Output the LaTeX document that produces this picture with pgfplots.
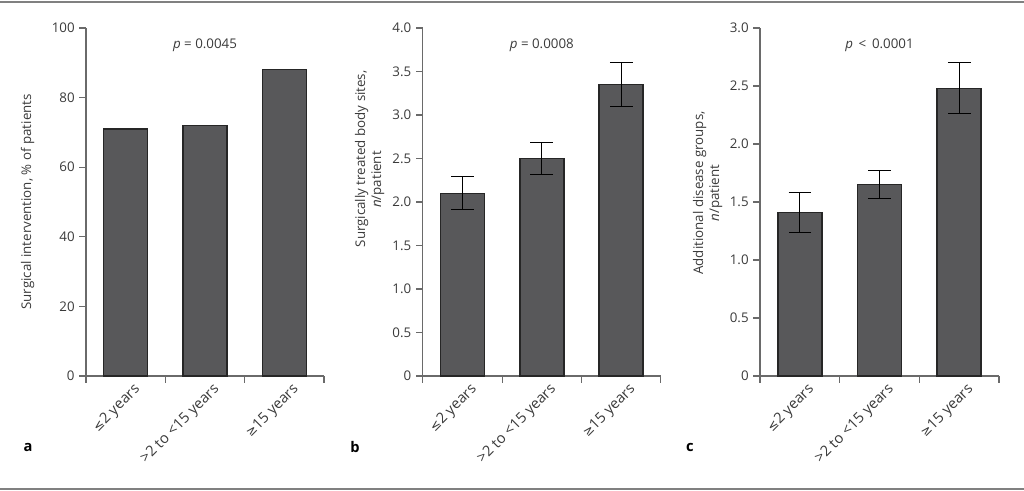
\documentclass[border=0pt]{standalone}
\usepackage{pgfplots}
\pgfplotsset{compat=1.18}
\usepackage{fontspec}
\setmainfont{Open Sans}
\newfontfamily\sym[Scale=0.85]{DejaVu Sans}
\definecolor{txt}{HTML}{3A3A3A}
\definecolor{axg}{HTML}{6A6A6A}
\definecolor{barfill}{HTML}{58585A}
\definecolor{bardraw}{HTML}{262626}
\definecolor{rule}{HTML}{808080}
\pgfplotsset{
  panel/.style={
    scale only axis,
    anchor=south west,
    height=261pt,
    xmin=-0.5, xmax=2.5, ymin=0,
    /pgf/number format/assume math mode=true,
    axis x line*=bottom, axis y line*=left,
    axis line style={draw=axg, line width=0.8pt},
    tick align=outside,
    major tick length=5pt,
    tick style={draw=axg, line width=0.8pt},
    xtick={-0.5,0.5,1.5,2.5}, xticklabels={},
    extra x ticks={0,1,2},
    extra x tick labels={{\sym ≤}2 years,{>2 to <15 years},{\sym ≥}15 years},
    extra x tick style={major tick length=0pt, tick style={draw=none}},
    xticklabel style={rotate=45, anchor=north east, inner sep=2pt, yshift=-5pt, xshift=2.5pt, font=\fontsize{11}{13}\selectfont, text=txt},
    yticklabel style={font=\fontsize{10}{12}\selectfont, text=txt},
    ylabel style={font=\fontsize{10}{12}\selectfont, text=txt, anchor=south, align=center},
    clip=false,
  },
  bars/.style={
    ybar, bar width=33pt, bar shift=0pt,
    fill=barfill, draw=bardraw, line width=1.1pt,
  },
  errs/.style={
    error bars/.cd, y dir=both, y explicit,
    error mark=|,
    error bar style={line width=0.8pt, black},
    error mark options={mark size=8.5pt, line width=0.8pt, black},
  },
}
\begin{document}
\begin{tikzpicture}
\path[use as bounding box] (0,0) rectangle (768pt,368.25pt);
\draw[rule, line width=1.1pt] (0,366.75pt) -- (768pt,366.75pt);
\draw[rule, line width=1.1pt] (0,1.5pt) -- (768pt,1.5pt);

% Panel a
\begin{axis}[panel, at={(64.5pt,86.25pt)}, width=178.5pt,
  ymax=100, ytick={0,20,40,60,80,100},
  ylabel={Surgical intervention, \% of patients},
  ylabel style={at={(axis description cs:-0.197,0.5)}},
]
\addplot[bars] coordinates {(0,71) (1,72) (2,88)};
\node[font=\fontsize{10}{12}\selectfont, text=txt] at (rel axis cs:0.5,0.951) {\textit{p} = 0.0045};
\end{axis}

% Panel b
\begin{axis}[panel, at={(317pt,86.25pt)}, width=178.7pt,
  ymax=4, ytick={0,0.5,1,1.5,2,2.5,3,3.5,4},
  yticklabels={0,0.5,1.0,1.5,2.0,2.5,3.0,3.5,4.0},
  ylabel={Surgically treated body sites,\\\textit{n}/patient\hspace*{31pt}},
  ylabel style={at={(axis description cs:-0.141,0.624)}},
]
\addplot[bars, errs] coordinates {(0,2.1) +- (0,0.19) (1,2.5) +- (0,0.18) (2,3.35) +- (0,0.25)};
\node[font=\fontsize{10}{12}\selectfont, text=txt] at (rel axis cs:0.5,0.951) {\textit{p} = 0.0008};
\end{axis}

% Panel c
\begin{axis}[panel, at={(570pt,86.25pt)}, width=179.25pt,
  ymax=3, ytick={0,0.5,1,1.5,2,2.5,3},
  yticklabels={0,0.5,1.0,1.5,2.0,2.5,3.0},
  ylabel={Additional disease groups,\\\textit{n}/patient},
  ylabel style={at={(axis description cs:-0.138,0.526)}},
]
\addplot[bars, errs] coordinates {(0,1.41) +- (0,0.17) (1,1.65) +- (0,0.12) (2,2.48) +- (0,0.22)};
\node[font=\fontsize{10}{12}\selectfont, text=txt] at (rel axis cs:0.5,0.951) {\textit{p} \,<\, 0.0001};
\end{axis}

\node[font=\bfseries\fontsize{11}{13}\selectfont, text=black] at (21pt,33pt) {a};
\node[font=\bfseries\fontsize{11}{13}\selectfont, text=black] at (266.25pt,33pt) {b};
\node[font=\bfseries\fontsize{11}{13}\selectfont, text=black] at (517.5pt,33pt) {c};
\end{tikzpicture}
\end{document}
